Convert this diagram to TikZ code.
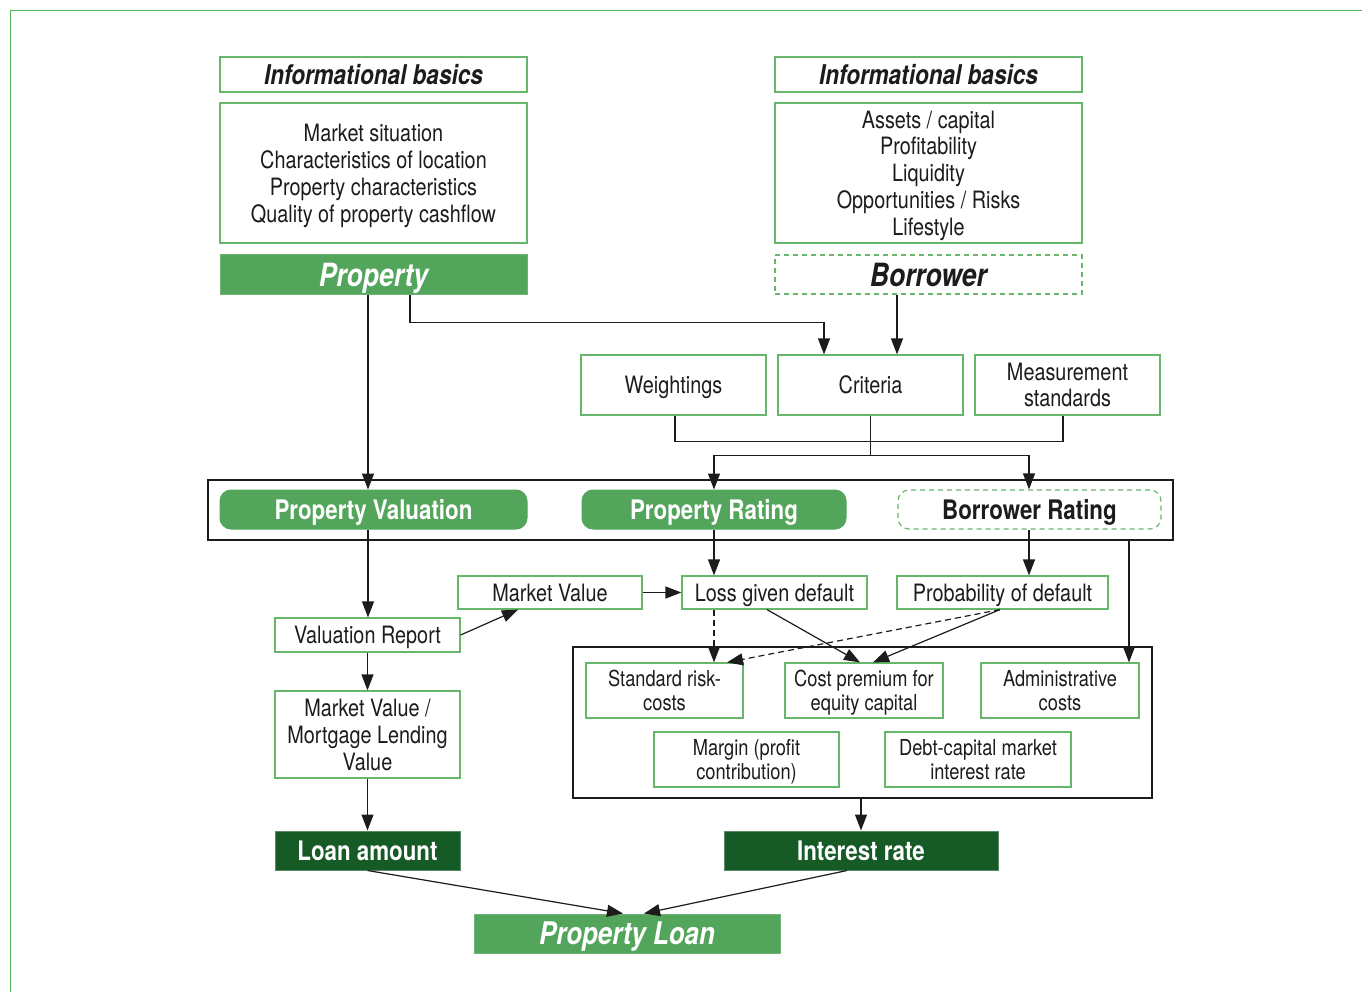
\documentclass[tikz,border=0pt]{standalone}
\usepackage{fontspec}
\setmainfont{TeX Gyre Heros}[FakeStretch=0.83]
\usetikzlibrary{arrows.meta,calc}
\definecolor{boxgreen}{RGB}{104,182,108}
\definecolor{fillgreen}{RGB}{84,165,92}
\definecolor{darkgreen}{RGB}{22,90,38}
\definecolor{framegreen}{RGB}{82,180,88}
\definecolor{ink}{RGB}{30,27,28}
\newcommand\fReg{\fontsize{23.9}{27}\selectfont}
\newcommand\fSmall{\fontsize{22}{24}\selectfont}
\newcommand\fBold{\bfseries\fontsize{26.9}{30}\selectfont}
\newcommand\fHead{\bfseries\itshape\fontsize{27.2}{30}\selectfont}
\newcommand\fBig{\bfseries\itshape\fontsize{32}{34}\selectfont}
\tikzset{
  gbox/.style={draw=boxgreen, line width=1.2pt, fill=white, inner sep=0pt, align=center, text=ink, font=\fReg, text depth=0pt},
  dbox/.style={gbox, dash pattern=on 5pt off 4pt},
  fbox/.style={draw=fillgreen!85!white, line width=1pt, fill=fillgreen, inner sep=0pt, align=center, text=white, font=\fBold, text depth=0pt},
  dkbox/.style={fbox, draw=darkgreen!70!white, fill=darkgreen},
  pill/.style={fbox, rounded corners=11pt, draw=fillgreen},
  dpill/.style={gbox, rounded corners=11pt, dash pattern=on 5pt off 4pt, font=\fBold},
  frm/.style={draw=ink, line width=1.3pt, inner sep=0pt},
  arr/.style={draw=ink, line width=1.2pt, -{Triangle[length=16pt,width=12pt]}},
  darr/.style={arr, dash pattern=on 6pt off 4pt},
  ln/.style={draw=ink, line width=1.2pt},
}
\begin{document}
\begin{tikzpicture}[x=1pt,y=-1pt]
\useasboundingbox (0,0) rectangle (1362,992);
\fill[white] (0,0) rectangle (1362,992);
% page frame
\draw[framegreen, line width=1.5pt] (1362,10.5) -| (10.5,992);

% top left
\node[gbox, minimum width=307, minimum height=35, font=\fHead] (ibL) at (373.5,74.5) {Informational basics};
\node[gbox, minimum width=307, minimum height=140] (listL) at (373.5,173) {Market situation\\Characteristics of location\\Property characteristics\\Quality of property cashflow};
\node[fbox, minimum width=307, minimum height=39, font=\fBig] (prop) at (373.5,274.5) {Property};
% top right
\node[gbox, minimum width=307, minimum height=35, font=\fHead] (ibR) at (928.5,74.5) {Informational basics};
\node[gbox, minimum width=307, minimum height=140, font=\fontsize{23.9}{26.75}\selectfont] (listR) at (928.5,173) {Assets / capital\\Profitability\\Liquidity\\Opportunities / Risks\\Lifestyle};
\node[dbox, minimum width=307, minimum height=39, font=\fBig] (borr) at (928.5,274.5) {Borrower};

% criteria row
\node[gbox, minimum width=185, minimum height=60] (weight) at (673.5,385) {Weightings};
\node[gbox, minimum width=185, minimum height=60] (crit) at (870.5,385) {Criteria};
\node[gbox, minimum width=185, minimum height=60, font=\fontsize{23.9}{26}\selectfont] (meas) at (1067.5,385) {Measurement\\standards};

% rating frame
\node[frm, minimum width=965, minimum height=60] (frame) at (690.5,510) {};
\node[pill, minimum width=307, minimum height=39] (pv) at (373.5,509.5) {Property Valuation};
\node[pill, minimum width=264, minimum height=39] (pr) at (714,509.5) {Property Rating};
\node[dpill, minimum width=263, minimum height=39] (br) at (1029.5,509.5) {Borrower Rating};

% middle
\node[gbox, minimum width=184, minimum height=33] (mv) at (550,592.5) {Market Value};
\node[gbox, minimum width=185, minimum height=33] (lgd) at (774.5,592.5) {Loss given default};
\node[gbox, minimum width=211, minimum height=33] (pd) at (1002.5,592.5) {Probability of default};
\node[gbox, minimum width=185, minimum height=34] (vr) at (367.5,635) {Valuation Report};
\node[gbox, minimum width=185, minimum height=87] (mvml) at (367.5,734.5) {Market Value /\\Mortgage Lending\\Value};

% cost frame
\node[frm, minimum width=579, minimum height=151] (inner) at (862.5,722.5) {};
\node[gbox, minimum width=157, minimum height=55, font=\fSmall] (src) at (664.5,690.5) {Standard risk-\\costs};
\node[gbox, minimum width=158, minimum height=55, font=\fSmall] (cp) at (864,690.5) {Cost premium for\\equity capital};
\node[gbox, minimum width=158, minimum height=55, font=\fSmall] (ac) at (1060,690.5) {Administrative\\costs};
\node[gbox, minimum width=185, minimum height=55, font=\fSmall] (mg) at (746.5,759.5) {Margin (profit\\contribution)};
\node[gbox, minimum width=186, minimum height=55, font=\fSmall] (dc) at (978,759.5) {Debt-capital market\\interest rate};

% bottom
\node[dkbox, minimum width=185, minimum height=39] (la) at (367.5,850.5) {Loan amount};
\node[dkbox, minimum width=274, minimum height=39] (ir) at (861,850.5) {Interest rate};
\node[fbox, minimum width=306, minimum height=39, font=\bfseries\itshape\fontsize{31.2}{34}\selectfont] (pl) at (627,933.5) {Property Loan};

% connectors top
\draw[arr] ([xshift=-5.5pt]prop.south) -- ([xshift=-5.5pt]prop.south |- pv.north);
\draw[arr] ([xshift=36.5pt]prop.south) -- ++(0,28) -| ([xshift=-46.5pt]crit.north);
\draw[arr] ([xshift=-31.5pt]borr.south) -- ([xshift=-31.5pt]borr.south |- crit.north);
\draw[ln] ([xshift=1.5pt]weight.south) -- ++(0,26) -| ([xshift=-4.5pt]meas.south);
\draw[ln] (crit.south) -- ++(0,40) coordinate (j);
\draw[arr] (j) -| (pr.north);
\draw[arr] (j) -| ([xshift=-0.5pt]br.north);

% connectors middle
\draw[arr] ([xshift=-5.5pt]pv.south) -- ([xshift=-5.5pt]pv.south |- vr.north);
\draw[arr] (vr.east) -- ([xshift=-32pt]mv.south);
\draw[arr] (mv.east) -- (lgd.west);
\draw[arr] (pr.south) -- (pr.south |- lgd.north);
\draw[arr] ([xshift=-0.5pt]br.south) -- ([xshift=-0.5pt]br.south |- pd.north);
\draw[arr] ([xshift=438.5pt]frame.south) -- ([xshift=438.5pt]frame.south |- ac.north);
\draw[darr] ([xshift=-60.5pt]lgd.south) -- ([xshift=-60.5pt]lgd.south |- src.north);
\draw[arr] ([xshift=-7.5pt]lgd.south) -- ([xshift=-4pt]cp.north);
\draw[darr] ([xshift=-2.5pt]pd.south) -- ([xshift=62.5pt]src.north);
\draw[arr] ([xshift=-2.5pt]pd.south) -- ([xshift=9pt]cp.north);

% connectors bottom
\draw[arr] (vr.south) -- (mvml.north);
\draw[arr] (mvml.south) -- (la.north);
\draw[arr] ([xshift=-1.5pt]inner.south) -- ([xshift=-1.5pt]inner.south |- ir.north);
\draw[arr] (la.south) -- ([xshift=-4pt]pl.north);
\draw[arr] ([xshift=-14pt]ir.south) -- ([xshift=17pt]pl.north);
\end{tikzpicture}
\end{document}
